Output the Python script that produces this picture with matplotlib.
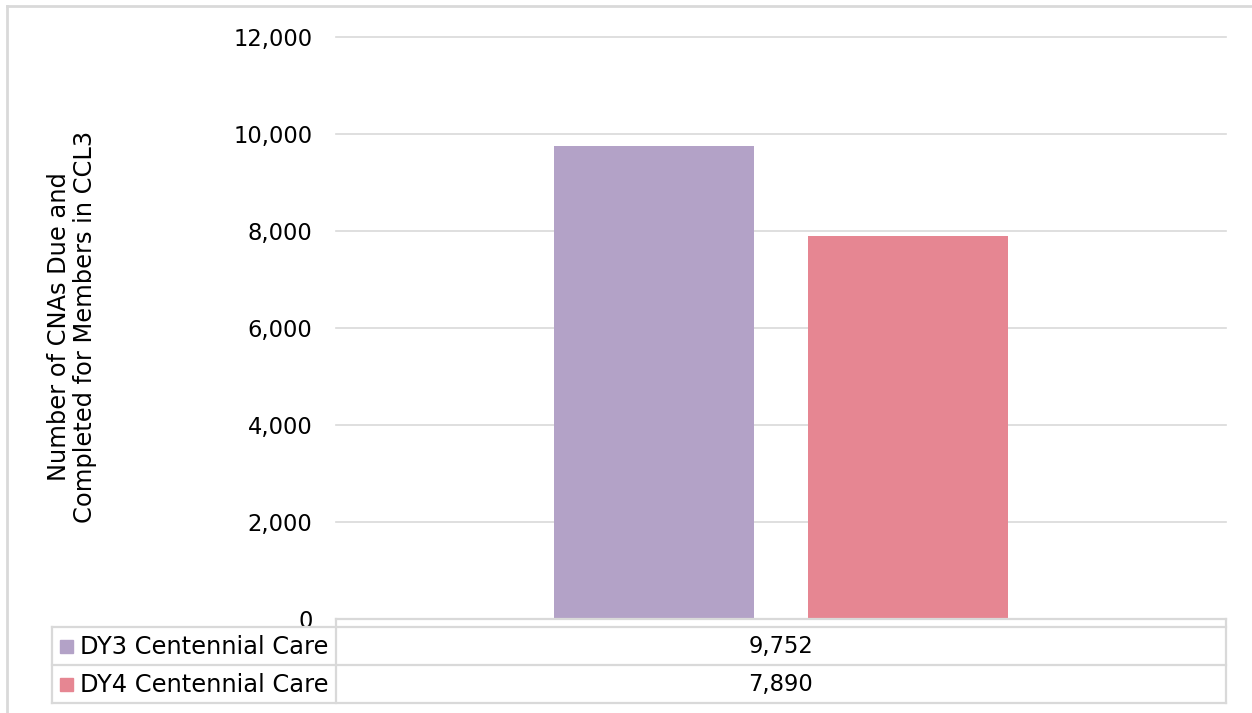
import matplotlib
matplotlib.use("Agg")
import matplotlib.pyplot as plt
from matplotlib.lines import Line2D
from matplotlib.patches import Rectangle

# ---- data ----
series_names = ["DY3 Centennial Care", "DY4 Centennial Care"]
series_values = [9752, 7890]
series_colors = ["#B3A2C7", "#E68692"]
y_ticks = [0, 2000, 4000, 6000, 8000, 10000, 12000]
y_label = "Number of CNAs Due and\nCompleted for Members in CCL3"

W, H = 1252, 713
fig = plt.figure(figsize=(W / 100, H / 100), dpi=100)
plt.rcParams['font.family'] = ['DejaVu Sans']
FS = 16.3      # numbers
FS_T = 17.4    # words (Verdana-like width)
GRID = "#D9D9D9"

def fx(px):
    return px / W

def fy(py):
    return 1 - py / H

# main axes
L, R, T, B = 336, 1226, 37, 619
ax = fig.add_axes([fx(L), fy(B), fx(R) - fx(L), fy(T) - fy(B)])
offsets = [-0.1425, 0.1425]
width = 0.225
for off, v, c in zip(offsets, series_values, series_colors):
    ax.bar(off, v, width=width, color=c, zorder=3)
ax.set_xlim(-0.5, 0.5)
ax.set_ylim(0, 12000)
ax.set_yticks(y_ticks)
ax.set_yticklabels([f"{t:,}" for t in y_ticks], fontsize=FS)
ax.tick_params(axis='y', length=0, pad=17)
ax.set_xticks([])
for s in ax.spines.values():
    s.set_visible(False)
ax.grid(axis='y', color=GRID, linewidth=1.2, zorder=0)
for gl in ax.get_ygridlines():
    gl.set_clip_on(False)
ax.set_axisbelow(True)

fig.text(fx(72), fy(327), y_label, rotation=90, ha='center', va='center',
         multialignment='center', fontsize=FS_T, linespacing=1.15)

# overlay for table + border (pixel coordinates)
ov = fig.add_axes([0, 0, 1, 1], zorder=5)
ov.set_xlim(0, W)
ov.set_ylim(H, 0)
ov.axis('off')
ov.patch.set_alpha(0)

lw = 1.6
def hline(y, x0, x1, w=lw, c=GRID):
    ov.add_line(Line2D([x0, x1], [y, y], color=c, linewidth=w, solid_capstyle='projecting'))

def vline(x, y0, y1, w=lw, c=GRID):
    ov.add_line(Line2D([x, x], [y0, y1], color=c, linewidth=w, solid_capstyle='projecting'))

row_tops = [627, 665]
row_bot = 703
hline(619, L, R)
hline(627, 52, R)
hline(665, 52, R)
hline(703, 52, R)
vline(52, 627, 703)
vline(L, 619, 703)
vline(R, 619, 703)

# category center in pixels
cx = L + (R - L) * 0.5
for i, (name, v, c) in enumerate(zip(series_names, series_values, series_colors)):
    y0 = row_tops[i]
    y1 = row_tops[i + 1] if i + 1 < len(row_tops) else row_bot
    ym = (y0 + y1) / 2
    ov.add_patch(Rectangle((60, ym - 6.5), 13, 13, color=c))
    ov.text(328, ym + 0.5, name, ha='right', va='center', fontsize=FS_T)
    ov.text(cx, ym + 0.5, f"{v:,}", ha='center', va='center', fontsize=FS)

# outer chart border (only top and left visible in the crop)
hline(6, 7, W + 5, w=2)
vline(7, 6, H + 5, w=2)

fig.savefig("out.png", dpi=100, facecolor="white")
